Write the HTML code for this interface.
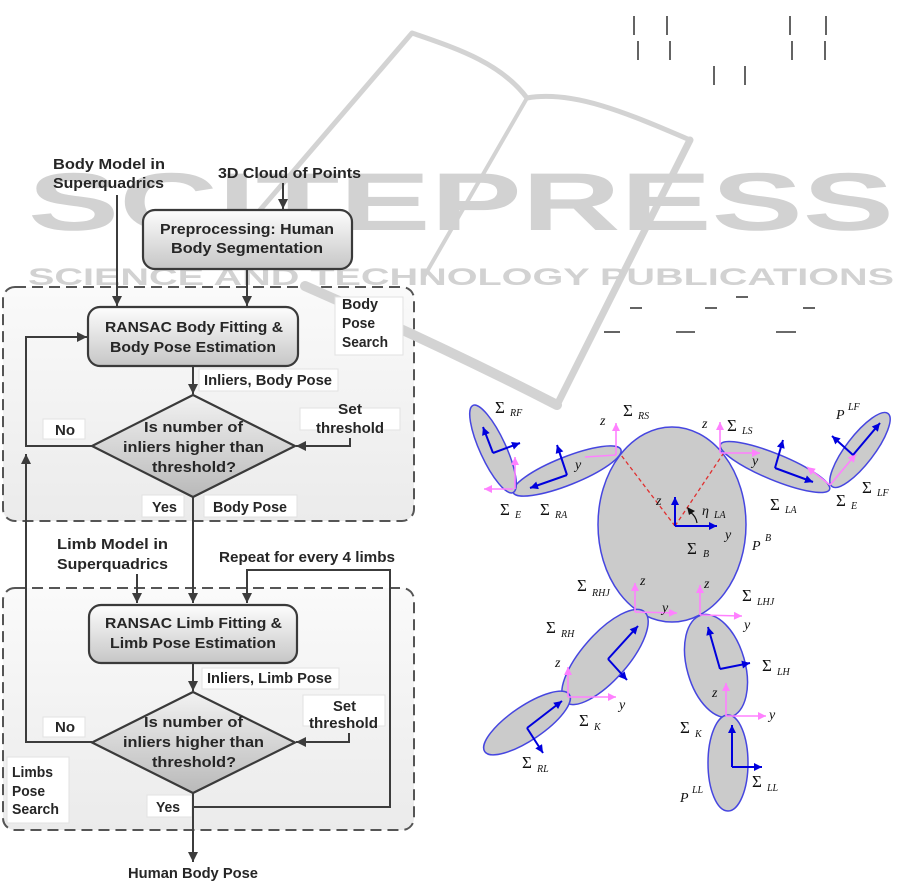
<!DOCTYPE html>
<html>
<head>
<meta charset="utf-8">
<style>
  html,body{margin:0;padding:0;background:#fff;}
  svg{display:block;}
  .t{font-family:"Liberation Sans",sans-serif;font-weight:bold;font-size:15px;fill:#262626;}
  .wm{font-family:"Liberation Sans",sans-serif;fill:#d2d2d2;}
  .s{font-family:"Liberation Serif",serif;font-size:17px;fill:#111;}
  .sub{font-family:"Liberation Serif",serif;font-style:italic;font-size:10px;fill:#111;}
  .ax{font-family:"Liberation Serif",serif;font-style:italic;font-size:14px;fill:#111;}
</style>
</head>
<body>
<svg width="912" height="889" viewBox="0 0 912 889" xmlns="http://www.w3.org/2000/svg">
  <defs>
    <marker id="ah" viewBox="0 0 10 10" refX="10" refY="5" markerWidth="11" markerHeight="10" markerUnits="userSpaceOnUse" orient="auto">
      <path d="M0,0 L10,5 L0,10 z" fill="#3c3c3c"/>
    </marker>
    <marker id="bh" viewBox="0 0 10 10" refX="10" refY="5" markerWidth="9" markerHeight="8" markerUnits="userSpaceOnUse" orient="auto">
      <path d="M0,0 L10,5 L0,10 z" fill="#0000dd"/>
    </marker>
    <marker id="mh" viewBox="0 0 10 10" refX="10" refY="5" markerWidth="9" markerHeight="8" markerUnits="userSpaceOnUse" orient="auto">
      <path d="M0,0 L10,5 L0,10 z" fill="#ff80ff"/>
    </marker>
    <linearGradient id="gbox" x1="0" y1="0" x2="0" y2="1">
      <stop offset="0" stop-color="#fdfdfd"/>
      <stop offset="1" stop-color="#c6c6c6"/>
    </linearGradient>
    <linearGradient id="gdia" x1="0" y1="0" x2="0" y2="1">
      <stop offset="0" stop-color="#f2f2f2"/>
      <stop offset="1" stop-color="#b9b9b9"/>
    </linearGradient>
    <linearGradient id="gcont" x1="0" y1="0" x2="0" y2="1">
      <stop offset="0" stop-color="#fafafa"/>
      <stop offset="1" stop-color="#ebebeb"/>
    </linearGradient>
  </defs>

  <!-- Containers -->
  <rect x="3" y="287" width="411" height="234" rx="12" fill="url(#gcont)" stroke="#555" stroke-width="2" stroke-dasharray="11 6"/>
  <rect x="3" y="588" width="411" height="242" rx="12" fill="url(#gcont)" stroke="#555" stroke-width="2" stroke-dasharray="11 6"/>

  <!-- Watermark -->
  <g fill="none" stroke="#d3d3d3" stroke-linecap="round" stroke-linejoin="round">
    <path d="M236,238 L412,33 C455,48 500,62 527,98" stroke-width="5"/>
    <path d="M527,98 C572,90 625,112 690,140" stroke-width="5"/>
    <path d="M690,140 L557,405" stroke-width="7"/>
    <path d="M527,98 L425,275" stroke-width="4"/>
    <path d="M305,286 Q440,345 557,405" stroke-width="10"/>
  </g>
  <text class="wm" x="28" y="230" font-size="82" font-weight="bold" textLength="866" lengthAdjust="spacingAndGlyphs">SCITEPRESS</text>
  <text class="wm" x="28" y="285" font-size="24" font-weight="bold" textLength="866" lengthAdjust="spacingAndGlyphs">SCIENCE AND TECHNOLOGY PUBLICATIONS</text>

  <!-- Stray marks top right -->
  <g stroke="#111" stroke-width="1.3">
    <line x1="634" y1="16" x2="634" y2="35"/>
    <line x1="667" y1="16" x2="667" y2="35"/>
    <line x1="790" y1="16" x2="790" y2="35"/>
    <line x1="826" y1="16" x2="826" y2="35"/>
    <line x1="638" y1="41" x2="638" y2="60"/>
    <line x1="670" y1="41" x2="670" y2="60"/>
    <line x1="792" y1="41" x2="792" y2="60"/>
    <line x1="825" y1="41" x2="825" y2="60"/>
    <line x1="714" y1="66" x2="714" y2="85"/>
    <line x1="745" y1="66" x2="745" y2="85"/>
    <line x1="630" y1="308" x2="642" y2="308"/>
    <line x1="705" y1="308" x2="717" y2="308"/>
    <line x1="736" y1="297" x2="748" y2="297"/>
    <line x1="803" y1="308" x2="815" y2="308"/>
    <line x1="604" y1="332" x2="620" y2="332"/>
    <line x1="676" y1="332" x2="695" y2="332"/>
    <line x1="776" y1="332" x2="796" y2="332"/>
  </g>

  <!-- Label backing boxes -->
  <g fill="#fff" stroke="#e2e2e2" stroke-width="1">
    <rect x="335" y="297" width="68" height="58"/>
    <rect x="199" y="369" width="139" height="22"/>
    <rect x="43" y="419" width="42" height="20"/>
    <rect x="300" y="408" width="100" height="22"/>
    <rect x="142" y="495" width="42" height="22"/>
    <rect x="204" y="495" width="93" height="22"/>
    <rect x="202" y="668" width="137" height="21"/>
    <rect x="303" y="695" width="82" height="31"/>
    <rect x="43" y="717" width="42" height="20"/>
    <rect x="7" y="757" width="62" height="66"/>
    <rect x="147" y="795" width="45" height="22"/>
  </g>

  <!-- Connectors -->
  <g fill="none" stroke="#3c3c3c" stroke-width="2">
    <line x1="117" y1="195" x2="117" y2="306" marker-end="url(#ah)"/>
    <line x1="283" y1="183" x2="283" y2="209" marker-end="url(#ah)"/>
    <line x1="247" y1="269" x2="247" y2="306" marker-end="url(#ah)"/>
    <polyline points="92,446 26,446 26,337 87,337" marker-end="url(#ah)"/>
    <line x1="193" y1="366" x2="193" y2="394" marker-end="url(#ah)"/>
    <polyline points="350,438 350,446 296,446" marker-end="url(#ah)"/>
    <line x1="193" y1="497" x2="193" y2="603" marker-end="url(#ah)"/>
    <line x1="137" y1="574" x2="137" y2="603" marker-end="url(#ah)"/>
    <polyline points="193,807 390,807 390,570 247,570 247,603" marker-end="url(#ah)"/>
    <line x1="193" y1="663" x2="193" y2="691" marker-end="url(#ah)"/>
    <polyline points="349,733 349,742 296,742" marker-end="url(#ah)"/>
    <polyline points="92,742 26,742 26,454" marker-end="url(#ah)"/>
    <line x1="193" y1="793" x2="193" y2="862" marker-end="url(#ah)"/>
  </g>

  <!-- Boxes -->
  <rect x="143" y="210" width="209" height="59" rx="12" fill="url(#gbox)" stroke="#3a3a3a" stroke-width="2.2"/>
  <rect x="88" y="307" width="210" height="59" rx="12" fill="url(#gbox)" stroke="#3a3a3a" stroke-width="2.2"/>
  <rect x="89" y="605" width="208" height="58" rx="12" fill="url(#gbox)" stroke="#3a3a3a" stroke-width="2.2"/>
  <polygon points="193,395 295,446 193,497 92,446" fill="url(#gdia)" stroke="#3a3a3a" stroke-width="2.2"/>
  <polygon points="193,692 295,742.5 193,793 92,742.5" fill="url(#gdia)" stroke="#3a3a3a" stroke-width="2.2"/>

  <!-- Flowchart text -->
  <g class="t">
    <text x="53" y="169" textLength="112" lengthAdjust="spacingAndGlyphs">Body Model in</text>
    <text x="53" y="188" textLength="111" lengthAdjust="spacingAndGlyphs">Superquadrics</text>
    <text x="218" y="178" textLength="143" lengthAdjust="spacingAndGlyphs">3D Cloud of Points</text>
    <text x="160" y="234" textLength="174" lengthAdjust="spacingAndGlyphs">Preprocessing: Human</text>
    <text x="171" y="253" textLength="152" lengthAdjust="spacingAndGlyphs">Body Segmentation</text>
    <text x="105" y="332" textLength="178" lengthAdjust="spacingAndGlyphs">RANSAC Body Fitting &amp;</text>
    <text x="110" y="352" textLength="166" lengthAdjust="spacingAndGlyphs">Body Pose Estimation</text>
    <text x="342" y="309" textLength="36" lengthAdjust="spacingAndGlyphs">Body</text>
    <text x="342" y="328" textLength="33" lengthAdjust="spacingAndGlyphs">Pose</text>
    <text x="342" y="347" textLength="46" lengthAdjust="spacingAndGlyphs">Search</text>
    <text x="204" y="385" textLength="128" lengthAdjust="spacingAndGlyphs">Inliers, Body Pose</text>
    <text x="55" y="435" textLength="20" lengthAdjust="spacingAndGlyphs">No</text>
    <text x="338" y="414" textLength="24" lengthAdjust="spacingAndGlyphs">Set</text>
    <text x="316" y="433" textLength="68" lengthAdjust="spacingAndGlyphs">threshold</text>
    <text x="144" y="432" textLength="99" lengthAdjust="spacingAndGlyphs">Is number of</text>
    <text x="123" y="452" textLength="141" lengthAdjust="spacingAndGlyphs">inliers higher than</text>
    <text x="152" y="472" textLength="84" lengthAdjust="spacingAndGlyphs">threshold?</text>
    <text x="152" y="512" textLength="25" lengthAdjust="spacingAndGlyphs">Yes</text>
    <text x="213" y="512" textLength="74" lengthAdjust="spacingAndGlyphs">Body Pose</text>
    <text x="57" y="549" textLength="111" lengthAdjust="spacingAndGlyphs">Limb Model in</text>
    <text x="57" y="569" textLength="111" lengthAdjust="spacingAndGlyphs">Superquadrics</text>
    <text x="219" y="562" textLength="176" lengthAdjust="spacingAndGlyphs">Repeat for every 4 limbs</text>
    <text x="105" y="628" textLength="177" lengthAdjust="spacingAndGlyphs">RANSAC Limb Fitting &amp;</text>
    <text x="110" y="648" textLength="166" lengthAdjust="spacingAndGlyphs">Limb Pose Estimation</text>
    <text x="207" y="683" textLength="125" lengthAdjust="spacingAndGlyphs">Inliers, Limb Pose</text>
    <text x="333" y="711" textLength="23" lengthAdjust="spacingAndGlyphs">Set</text>
    <text x="309" y="728" textLength="69" lengthAdjust="spacingAndGlyphs">threshold</text>
    <text x="55" y="732" textLength="20" lengthAdjust="spacingAndGlyphs">No</text>
    <text x="144" y="727" textLength="99" lengthAdjust="spacingAndGlyphs">Is number of</text>
    <text x="123" y="747" textLength="141" lengthAdjust="spacingAndGlyphs">inliers higher than</text>
    <text x="152" y="767" textLength="84" lengthAdjust="spacingAndGlyphs">threshold?</text>
    <text x="12" y="777" textLength="41" lengthAdjust="spacingAndGlyphs">Limbs</text>
    <text x="12" y="796" textLength="33" lengthAdjust="spacingAndGlyphs">Pose</text>
    <text x="12" y="814" textLength="47" lengthAdjust="spacingAndGlyphs">Search</text>
    <text x="156" y="812" textLength="24" lengthAdjust="spacingAndGlyphs">Yes</text>
    <text x="128" y="878" textLength="130" lengthAdjust="spacingAndGlyphs">Human Body Pose</text>
  </g>

  <!-- Body diagram -->
  <g fill="#cbcbcb" stroke="#4646e0" stroke-width="1.5">
    <ellipse cx="672" cy="524.5" rx="74" ry="97.5"/>
    <ellipse cx="567" cy="471" rx="58" ry="14" transform="rotate(-21.7 567 471)"/>
    <ellipse cx="493" cy="449" rx="48" ry="13" transform="rotate(65.3 493 449)"/>
    <ellipse cx="775" cy="467" rx="59" ry="13" transform="rotate(22.4 775 467)"/>
    <ellipse cx="860" cy="450" rx="46" ry="14" transform="rotate(-52.5 860 450)"/>
    <ellipse cx="605" cy="657" rx="60" ry="23" transform="rotate(-48.7 605 657)"/>
    <ellipse cx="527" cy="723" rx="51" ry="17" transform="rotate(-34 527 723)"/>
    <ellipse cx="716" cy="666" rx="29" ry="53" transform="rotate(-16 716 666)"/>
    <ellipse cx="728" cy="763" rx="20" ry="48"/>
  </g>

  <!-- red dashed -->
  <g stroke="#e03030" stroke-width="1.3" stroke-dasharray="4 3" fill="none">
    <line x1="675" y1="526" x2="621" y2="455"/>
    <line x1="675" y1="526" x2="723" y2="454"/>
  </g>

  <!-- magenta frames -->
  <g stroke="#ff80ff" stroke-width="1.6" fill="none">
    <line x1="616" y1="455" x2="616" y2="423" marker-end="url(#mh)"/>
    <line x1="616" y1="455" x2="585" y2="457"/>
    <line x1="515" y1="489" x2="515" y2="457" marker-end="url(#mh)"/>
    <line x1="513" y1="489" x2="484" y2="489" marker-end="url(#mh)"/>
    <line x1="720" y1="453" x2="720" y2="422" marker-end="url(#mh)"/>
    <line x1="720" y1="453" x2="760" y2="453" marker-end="url(#mh)"/>
    <line x1="830" y1="485" x2="807" y2="467" marker-end="url(#mh)"/>
    <line x1="830" y1="485" x2="856" y2="454" marker-end="url(#mh)"/>
    <line x1="635" y1="612" x2="635" y2="583" marker-end="url(#mh)"/>
    <line x1="635" y1="612" x2="677" y2="613" marker-end="url(#mh)"/>
    <line x1="700" y1="615" x2="700" y2="585" marker-end="url(#mh)"/>
    <line x1="700" y1="615" x2="742" y2="616" marker-end="url(#mh)"/>
    <line x1="568" y1="697" x2="568" y2="667" marker-end="url(#mh)"/>
    <line x1="568" y1="697" x2="616" y2="697" marker-end="url(#mh)"/>
    <line x1="726" y1="716" x2="726" y2="683" marker-end="url(#mh)"/>
    <line x1="726" y1="716" x2="766" y2="716" marker-end="url(#mh)"/>
  </g>

  <!-- blue frames -->
  <g stroke="#0000dd" stroke-width="2" fill="none">
    <line x1="675" y1="526" x2="675" y2="497" marker-end="url(#bh)"/>
    <line x1="675" y1="526" x2="717" y2="526" marker-end="url(#bh)"/>
    <line x1="493" y1="453" x2="483" y2="427" marker-end="url(#bh)"/>
    <line x1="493" y1="453" x2="520" y2="443" marker-end="url(#bh)"/>
    <line x1="567" y1="475" x2="530" y2="488" marker-end="url(#bh)"/>
    <line x1="567" y1="475" x2="557" y2="445" marker-end="url(#bh)"/>
    <line x1="775" y1="468" x2="783" y2="440" marker-end="url(#bh)"/>
    <line x1="775" y1="468" x2="813" y2="482" marker-end="url(#bh)"/>
    <line x1="853" y1="455" x2="880" y2="423" marker-end="url(#bh)"/>
    <line x1="853" y1="455" x2="832" y2="436" marker-end="url(#bh)"/>
    <line x1="608" y1="659" x2="638" y2="626" marker-end="url(#bh)"/>
    <line x1="608" y1="659" x2="627" y2="680" marker-end="url(#bh)"/>
    <line x1="527" y1="728" x2="562" y2="701" marker-end="url(#bh)"/>
    <line x1="527" y1="728" x2="543" y2="753" marker-end="url(#bh)"/>
    <line x1="720" y1="669" x2="708" y2="627" marker-end="url(#bh)"/>
    <line x1="720" y1="669" x2="750" y2="663" marker-end="url(#bh)"/>
    <line x1="732" y1="767" x2="732" y2="725" marker-end="url(#bh)"/>
    <line x1="732" y1="767" x2="762" y2="767" marker-end="url(#bh)"/>
  </g>
  <!-- eta arc -->
  <path d="M690,512 Q696,516 697,523" fill="none" stroke="#111" stroke-width="1.2"/>
  <path d="M687,507 L695,511 L689,515 z" fill="#111"/>

  <!-- body labels -->
  <g>
    <text class="s" x="495" y="413">Σ</text><text class="sub" x="510" y="416">RF</text>
    <text class="s" x="623" y="416">Σ</text><text class="sub" x="638" y="419">RS</text>
    <text class="ax" x="600" y="425">z</text>
    <text class="s" x="727" y="431">Σ</text><text class="sub" x="742" y="434">LS</text>
    <text class="ax" x="702" y="428">z</text>
    <text class="ax" x="836" y="419" font-size="17">P</text><text class="sub" x="848" y="410">LF</text>
    <text class="ax" x="575" y="469" font-size="15">y</text>
    <text class="ax" x="752" y="465" font-size="15">y</text>
    <text class="s" x="500" y="515">Σ</text><text class="sub" x="515" y="518">E</text>
    <text class="s" x="540" y="515">Σ</text><text class="sub" x="555" y="518">RA</text>
    <text class="ax" x="656" y="505">z</text>
    <text class="ax" x="702" y="515" font-size="16">η</text><text class="sub" x="714" y="518">LA</text>
    <text class="ax" x="725" y="539" font-size="15">y</text>
    <text class="s" x="687" y="554">Σ</text><text class="sub" x="703" y="557">B</text>
    <text class="ax" x="752" y="550" font-size="17">P</text><text class="sub" x="765" y="541">B</text>
    <text class="s" x="770" y="510">Σ</text><text class="sub" x="785" y="513">LA</text>
    <text class="s" x="862" y="493">Σ</text><text class="sub" x="877" y="496">LF</text>
    <text class="s" x="836" y="506">Σ</text><text class="sub" x="851" y="509">E</text>

    <text class="s" x="577" y="591">Σ</text><text class="sub" x="592" y="596">RHJ</text>
    <text class="ax" x="640" y="585">z</text>
    <text class="ax" x="662" y="612" font-size="15">y</text>
    <text class="ax" x="704" y="588">z</text>
    <text class="s" x="742" y="601">Σ</text><text class="sub" x="757" y="605">LHJ</text>
    <text class="ax" x="744" y="629" font-size="15">y</text>
    <text class="s" x="546" y="633">Σ</text><text class="sub" x="561" y="637">RH</text>
    <text class="ax" x="555" y="667">z</text>
    <text class="ax" x="619" y="709" font-size="15">y</text>
    <text class="s" x="579" y="726">Σ</text><text class="sub" x="594" y="730">K</text>
    <text class="s" x="522" y="768">Σ</text><text class="sub" x="537" y="772">RL</text>
    <text class="s" x="762" y="671">Σ</text><text class="sub" x="777" y="675">LH</text>
    <text class="ax" x="712" y="697">z</text>
    <text class="ax" x="769" y="719" font-size="15">y</text>
    <text class="s" x="680" y="733">Σ</text><text class="sub" x="695" y="737">K</text>
    <text class="s" x="752" y="787">Σ</text><text class="sub" x="767" y="791">LL</text>
    <text class="ax" x="680" y="802" font-size="17">P</text><text class="sub" x="692" y="793">LL</text>
  </g>
</svg>
</body>
</html>
